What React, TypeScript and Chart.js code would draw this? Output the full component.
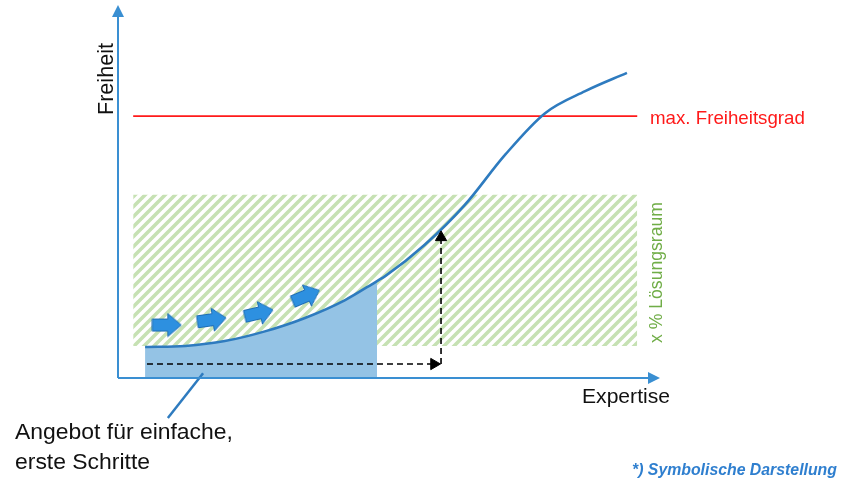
import React, { useEffect, useRef } from "react";
import { Chart, registerables } from "chart.js";
Chart.register(...registerables);

// ---- data (abstract units: x = Expertise 0..100, y = Freiheit 0..100) ----
const curveX = [5.0, 12.4, 19.7, 27.1, 34.5, 41.9, 47.8, 49.3, 56.6, 64.0, 71.4, 78.8, 86.2, 93.9];
const curveY = [8.3, 8.6, 9.9, 12.5, 16.1, 20.9, 26.0, 27.3, 35.7, 46.4, 59.8, 71.0, 76.9, 81.8];
const offerEndX = 47.8; // end of the filled "Angebot" region
const maxFreedomY = 70.2; // max. Freiheitsgrad
const spaceX = [2.8, 95.8]; // Lösungsraum extent
const spaceBottomY = 8.6;
const spaceTopY = 49.1;
const dashX = [5.35, 58.3];
const dashY = 3.75;
const dashUpX = 59.6;
const dashUpY = [3.75, 37.7];
const stepX = [9.0, 17.3, 26.0, 34.7];
const stepY = [14.2, 15.6, 17.4, 22.0];
const stepAngle = [0, -8, -13, -23];
const calloutX = [15.7, 9.2];
const calloutY = [1.3, -10.7];

const yTitle = "Freiheit";
const xTitle = "Expertise";
const maxLabel = "max. Freiheitsgrad";
const spaceLabel = "x % Lösungsraum";
const offerLines = ["Angebot für einfache,", "erste Schritte"];
const footnote = "*) Symbolische Darstellung";

const AXIS = "#3a8fd2";
const CURVE = "#2e7bbf";

function makeArrow(): HTMLCanvasElement {
  const c = document.createElement("canvas");
  c.width = 31;
  c.height = 25;
  const g = c.getContext("2d")!;
  g.beginPath();
  g.moveTo(1, 6.5);
  g.lineTo(16.5, 6.5);
  g.lineTo(16.5, 1);
  g.lineTo(30, 12.5);
  g.lineTo(16.5, 24);
  g.lineTo(16.5, 18.5);
  g.lineTo(1, 18.5);
  g.closePath();
  g.fillStyle = "#2d90e0";
  g.fill();
  g.strokeStyle = "#1f6db3";
  g.lineWidth = 1;
  g.stroke();
  return c;
}

function makeHatch(ctx: CanvasRenderingContext2D): CanvasPattern {
  const s = 10;
  const c = document.createElement("canvas");
  c.width = s;
  c.height = s;
  const g = c.getContext("2d")!;
  g.strokeStyle = "#c6e1b3";
  g.lineWidth = 3.6;
  g.beginPath();
  for (const a of [-s, 0, s]) {
    g.moveTo(a - 1, s + 1);
    g.lineTo(a + s + 1, -1);
  }
  g.stroke();
  return ctx.createPattern(c, "repeat")!;
}

function fitSize(ctx: CanvasRenderingContext2D, text: string, width: number, pre: string, family: string) {
  ctx.font = `${pre} 20px ${family}`;
  const w = ctx.measureText(text).width;
  return (20 * width) / w;
}

const FAM = '"Liberation Sans", Arial, sans-serif';

const decor = {
  id: "decor",
  afterDatasetsDraw(chart: any) {
    const { ctx, chartArea } = chart;
    const { left, right, top, bottom } = chartArea;
    ctx.save();
    ctx.strokeStyle = AXIS;
    ctx.fillStyle = AXIS;
    ctx.lineWidth = 2;
    ctx.beginPath();
    ctx.moveTo(left, bottom);
    ctx.lineTo(left, top + 11);
    ctx.moveTo(left, bottom);
    ctx.lineTo(right - 11, bottom);
    ctx.stroke();
    ctx.beginPath();
    ctx.moveTo(left, top);
    ctx.lineTo(left - 6, top + 12);
    ctx.lineTo(left + 6, top + 12);
    ctx.closePath();
    ctx.fill();
    ctx.beginPath();
    ctx.moveTo(right, bottom);
    ctx.lineTo(right - 12, bottom - 6);
    ctx.lineTo(right - 12, bottom + 6);
    ctx.closePath();
    ctx.fill();
    ctx.restore();
  },
  afterDraw(chart: any) {
    const { ctx } = chart;
    const ys = chart.scales.y;
    ctx.save();
    ctx.textBaseline = "alphabetic";
    ctx.textAlign = "left";

    // Freiheit (vertical)
    let sz = fitSize(ctx, yTitle, 72, "", FAM);
    ctx.font = `${sz}px ${FAM}`;
    ctx.fillStyle = "#111";
    ctx.save();
    ctx.translate(113, 115);
    ctx.rotate(-Math.PI / 2);
    ctx.fillText(yTitle, 0, 0);
    ctx.restore();

    // Expertise
    sz = fitSize(ctx, xTitle, 88, "", FAM);
    ctx.font = `${sz}px ${FAM}`;
    ctx.fillText(xTitle, 582, 403);

    // max. Freiheitsgrad
    sz = fitSize(ctx, maxLabel, 155, "", FAM);
    ctx.font = `${sz}px ${FAM}`;
    ctx.fillStyle = "#ff1a1a";
    ctx.fillText(maxLabel, 650, ys.getPixelForValue(maxFreedomY) + 8);

    // x % Lösungsraum (vertical)
    sz = fitSize(ctx, spaceLabel, 141, "", FAM);
    ctx.font = `${sz}px ${FAM}`;
    ctx.fillStyle = "#70ad47";
    ctx.save();
    ctx.translate(662, 343);
    ctx.rotate(-Math.PI / 2);
    ctx.fillText(spaceLabel, 0, 0);
    ctx.restore();

    // Angebot label
    sz = fitSize(ctx, offerLines[0], 218, "", FAM);
    ctx.font = `${sz}px ${FAM}`;
    ctx.fillStyle = "#111";
    ctx.fillText(offerLines[0], 15, 439);
    ctx.fillText(offerLines[1], 15, 469);

    // footnote
    sz = fitSize(ctx, footnote, 205, "italic bold", FAM);
    ctx.font = `italic bold ${sz}px ${FAM}`;
    ctx.fillStyle = "#2f7fcf";
    ctx.fillText(footnote, 632, 475);
    ctx.restore();
  },
};

export default function App() {
  const ref = useRef<HTMLCanvasElement>(null);
  useEffect(() => {
    const canvas = ref.current!;
    const ctx = canvas.getContext("2d")!;
    const hatch = makeHatch(ctx);
    const arrow = makeArrow();
    const curve = curveX.map((x, i) => ({ x, y: curveY[i] }));
    const offer = curve.filter((p) => p.x <= offerEndX);

    const chart = new Chart(ctx, {
      type: "line",
      data: {
        datasets: [
          {
            data: curve,
            borderColor: CURVE,
            borderWidth: 2.6,
            cubicInterpolationMode: "monotone",
            pointRadius: 0,
            fill: false,
            order: 1,
          },
          {
            data: offer,
            borderWidth: 0,
            borderColor: "rgba(0,0,0,0)",
            backgroundColor: "#94c3e5",
            cubicInterpolationMode: "monotone",
            pointRadius: 0,
            fill: "origin",
            order: 3,
          },
          {
            data: spaceX.map((x) => ({ x, y: spaceTopY })),
            borderWidth: 0,
            borderColor: "rgba(0,0,0,0)",
            backgroundColor: hatch as any,
            pointRadius: 0,
            fill: { value: spaceBottomY },
            order: 5,
          },
          {
            data: spaceX.map((x) => ({ x, y: maxFreedomY })),
            borderColor: "#ff1a1a",
            borderWidth: 1.6,
            pointRadius: 0,
            fill: false,
            order: 2,
          },
          {
            data: dashX.map((x) => ({ x, y: dashY })),
            borderColor: "#000",
            borderWidth: 1.6,
            borderDash: [6, 4],
            pointRadius: [0, 6.5],
            pointStyle: "triangle",
            pointRotation: 90,
            pointBackgroundColor: "#000",
            pointBorderColor: "#000",
            pointBorderWidth: 1,
            fill: false,
            order: 0,
          },
          {
            data: dashUpY.map((y) => ({ x: dashUpX, y })),
            borderColor: "#000",
            borderWidth: 1.6,
            borderDash: [6, 4],
            pointRadius: [0, 6.5],
            pointStyle: "triangle",
            pointRotation: 0,
            pointBackgroundColor: "#000",
            pointBorderColor: "#000",
            pointBorderWidth: 1,
            fill: false,
            order: 0,
          },
          {
            data: stepX.map((x, i) => ({ x, y: stepY[i] })),
            showLine: false,
            pointStyle: arrow as any,
            pointRotation: stepAngle,
            pointRadius: 12,
            fill: false,
            order: 0,
          },
          {
            data: calloutX.map((x, i) => ({ x, y: calloutY[i] })),
            borderColor: CURVE,
            borderWidth: 2.5,
            pointRadius: 0,
            fill: false,
            clip: false as any,
            order: 0,
          },
        ] as any,
      },
      options: {
        animation: false,
        responsive: true,
        maintainAspectRatio: false,
        events: [],
        layout: { autoPadding: false, padding: { left: 118, right: 204, top: 5, bottom: 102 } } as any,
        scales: {
          x: { type: "linear", min: 0, max: 100, display: false },
          y: { type: "linear", min: 0, max: 100, display: false },
        },
        plugins: { legend: { display: false }, tooltip: { enabled: false } },
      },
      plugins: [decor],
    });
    return () => chart.destroy();
  }, []);
  return (
    <div style={{ position: "fixed", left: 0, top: 0, width: 864, height: 480, background: "#fff" }}>
      <canvas ref={ref} />
    </div>
  );
}
